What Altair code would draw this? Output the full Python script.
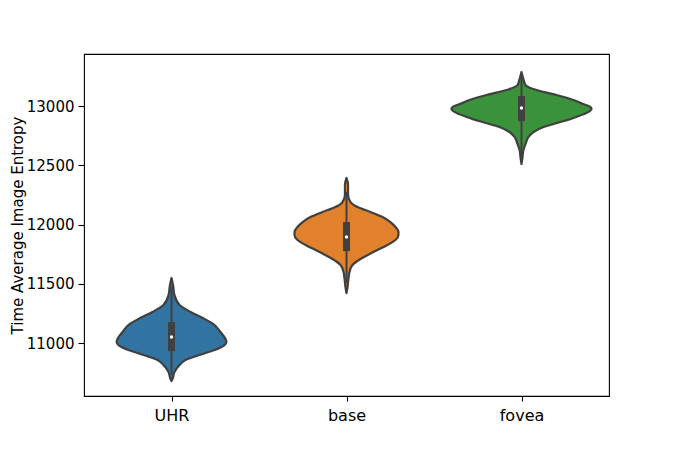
import altair as alt
import pandas as pd

categories = ["UHR", "base", "fovea"]
colors = ["#3274a1", "#e1812c", "#3a923a"]

# violin outlines: entropy level and half-width (in category units)
uhr_entropy = [11549, 11489, 11405, 11321, 11262, 11203, 11152, 11093, 11034, 11008,
               10983, 10941, 10899, 10857, 10814, 10755, 10696, 10679]
uhr_halfwidth = [0, 0.009, 0.017, 0.046, 0.109, 0.189, 0.246, 0.280, 0.309, 0.314,
                 0.303, 0.246, 0.160, 0.080, 0.046, 0.017, 0.006, 0]

base_entropy = [12393, 12334, 12249, 12190, 12148, 12106, 12063, 12021, 11979, 11937,
                11912, 11869, 11827, 11768, 11709, 11658, 11599, 11540, 11473, 11422]
base_halfwidth = [0, 0.009, 0.009, 0.023, 0.063, 0.137, 0.206, 0.251, 0.280, 0.297,
                  0.297, 0.280, 0.234, 0.154, 0.080, 0.034, 0.017, 0.011, 0.006, 0]

fovea_entropy = [13287, 13228, 13177, 13135, 13093, 13051, 13017, 12992, 12975, 12950,
                 12908, 12865, 12823, 12781, 12739, 12680, 12629, 12570, 12511]
fovea_halfwidth = [0, 0.011, 0.023, 0.086, 0.200, 0.297, 0.354, 0.394, 0.400, 0.383,
                   0.314, 0.223, 0.126, 0.069, 0.040, 0.023, 0.011, 0.006, 0]

# inner box statistics
q1 = [10932, 11776, 12873]
q3 = [11177, 12021, 13084]
median = [11051, 11895, 12983]
whisker_low = [10730, 11506, 12560]
whisker_high = [11473, 12277, 13250]

y_ticks = [11000, 11500, 12000, 12500, 13000]

rows = []
for i, (c, ent, hw) in enumerate(zip(categories,
                                      [uhr_entropy, base_entropy, fovea_entropy],
                                      [uhr_halfwidth, base_halfwidth, fovea_halfwidth])):
    for e, h in zip(ent, hw):
        rows.append({"category": c, "pos": i, "entropy": e, "hw": h})
violin_df = pd.DataFrame(rows)

box_df = pd.DataFrame({
    "category": categories,
    "pos": list(range(len(categories))),
    "q1": q1, "q3": q3, "median": median,
    "wlo": whisker_low, "whi": whisker_high,
})

label_expr = " : ".join(
    [f"datum.value == {i} ? '{c}'" for i, c in enumerate(categories[:-1])]
) + f" : '{categories[-1]}'"

xscale = alt.Scale(domain=[-0.5, len(categories) - 0.5], nice=False, zero=False)
yscale = alt.Scale(domain=[10553, 13439], nice=False, zero=False)

xaxis = alt.Axis(values=list(range(len(categories))), labelExpr=label_expr, title=None,
                 grid=False, domain=False, tickSize=5, labelPadding=6, labelAngle=0,
                 labelFontSize=16)
yaxis = alt.Axis(values=y_ticks, title="Time Average Image Entropy", grid=False,
                 domain=False, tickSize=6, labelPadding=4, titlePadding=1, format="d",
                 labelFontSize=15, titleFontSize=15)

color = alt.Color("category:N", scale=alt.Scale(domain=categories, range=colors), legend=None)

edge = "#404040"

violin = alt.Chart(violin_df).transform_calculate(
    left="datum.pos - datum.hw", right="datum.pos + datum.hw"
).mark_area(orient="horizontal", interpolate="monotone", stroke=edge,
            strokeWidth=2.2, opacity=1, strokeJoin="round").encode(
    y=alt.Y("entropy:Q", scale=yscale, axis=yaxis),
    x=alt.X("left:Q", scale=xscale, axis=xaxis),
    x2="right:Q",
    color=color,
    detail="category:N",
)

whisker = alt.Chart(box_df).mark_rule(color=edge, strokeWidth=2).encode(
    x=alt.X("pos:Q", scale=xscale, axis=xaxis),
    y=alt.Y("wlo:Q", scale=yscale, axis=yaxis),
    y2="whi:Q",
)

box = alt.Chart(box_df).mark_rule(color=edge, strokeWidth=7).encode(
    x=alt.X("pos:Q", scale=xscale, axis=xaxis),
    y=alt.Y("q1:Q", scale=yscale, axis=yaxis),
    y2="q3:Q",
)

med = alt.Chart(box_df).mark_circle(color="white", size=12, opacity=1).encode(
    x=alt.X("pos:Q", scale=xscale, axis=xaxis),
    y=alt.Y("median:Q", scale=yscale, axis=yaxis),
)

chart = alt.layer(violin, whisker, box, med).properties(
    width=525, height=342,
    autosize=alt.AutoSizeParams(type="none"),
    padding={"left": 76, "top": 46, "right": 60, "bottom": 48},
).configure_view(
    stroke="black", strokeWidth=1.1
).configure_axis(
    labelFont="DejaVu Sans", labelColor="black",
    titleFont="DejaVu Sans", titleColor="black",
    titleFontWeight="normal", tickColor="black", tickWidth=1.1,
)

chart.save("out.html", embed_options={"renderer": "svg", "actions": False})
